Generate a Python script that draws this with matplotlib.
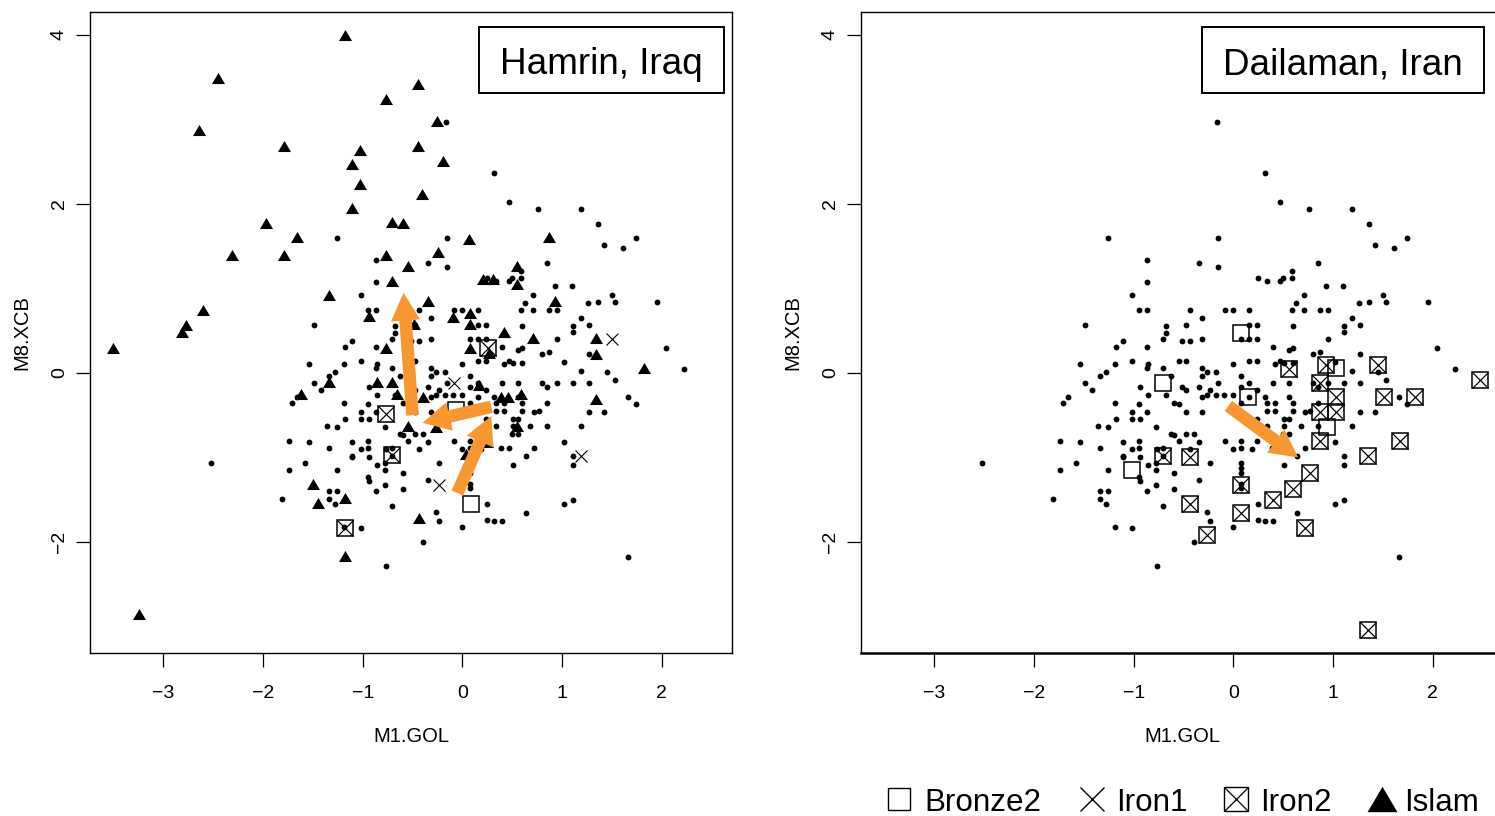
import numpy as np
import matplotlib
matplotlib.use('Agg')
import matplotlib.pyplot as plt
from matplotlib.patches import FancyArrowPatch

plt.rcParams['font.family'] = ['Liberation Sans', 'DejaVu Sans']

# All samples, (M1.GOL, M8.XCB), same cloud in both panels
samples = np.array([
    (-1.26, 1.60), (-0.15, 1.60), (-0.87, 1.34), (-0.34, 1.30), (-0.15, 1.26), (-0.87, 1.08), (-1.02, 0.92),
    (-0.95, 0.74), (-0.87, 0.74), (-0.43, 0.75), (-0.31, 0.65), (-0.08, 0.74), (0.00, 0.75), (0.16, 0.74),
    (-1.49, 0.57), (-0.68, 0.56), (-0.47, 0.57), (0.16, 0.57), (0.24, 0.57), (-0.68, 0.47), (-0.71, 0.40),
    (-0.51, 0.38), (-0.43, 0.38), (-0.31, 0.40), (0.08, 0.40), (0.16, 0.40), (0.24, 0.40), (-1.11, 0.38),
    (-1.18, 0.31), (-0.87, 0.31), (-1.54, 0.11), (-1.19, 0.11), (-1.02, 0.14), (-0.86, 0.11), (-0.87, 0.06),
    (-0.55, 0.14), (-0.47, 0.14), (-0.71, 0.06), (-0.31, 0.06), (-0.31, -0.03), (-0.26, 0.01), (-0.17, 0.01),
    (0.00, 0.11), (0.16, 0.14), (0.24, 0.14), (-1.28, 0.01), (-1.34, -0.03), (-0.63, -0.04), (0.08, -0.03),
    (-1.49, -0.12), (-1.42, -0.20), (-0.94, -0.17), (-0.51, -0.17), (-0.47, -0.20), (-0.34, -0.17),
    (-0.15, -0.12), (-0.23, -0.20), (-0.26, -0.26), (-0.31, -0.29), (-0.17, -0.26), (-0.09, -0.26),
    (0.00, -0.26), (0.08, -0.17), (0.16, -0.12), (0.24, -0.20), (0.16, -0.29), (-0.86, -0.26), (-0.68, -0.26),
    (-1.66, -0.29), (-1.71, -0.36), (-1.19, -0.36), (-0.95, -0.37), (-0.60, -0.36), (-0.55, -0.37),
    (0.08, -0.36), (-1.02, -0.46), (-0.87, -0.46), (-0.47, -0.46), (-0.31, -0.46), (-1.02, -0.54),
    (-0.94, -0.54), (-1.18, -0.55), (0.24, -0.55), (-1.36, -0.63), (-1.26, -0.64), (-0.78, -0.64),
    (-0.63, -0.72), (-0.60, -0.73), (-0.47, -0.72), (-0.39, -0.72), (-1.74, -0.80), (-1.54, -0.82),
    (-1.11, -0.82), (-0.95, -0.80), (-0.55, -0.80), (-0.34, -0.82), (-0.08, -0.80), (0.08, -0.80),
    (0.24, -0.80), (-1.34, -0.89), (-1.02, -0.90), (-0.95, -0.89), (-0.77, -0.90), (-0.71, -0.89),
    (-0.43, -0.90), (0.00, -0.90), (0.08, -0.89), (0.19, -0.90), (-1.11, -0.98), (-1.11, -1.00),
    (-0.94, -1.00), (-0.71, -0.98), (-0.78, -1.06), (-0.86, -1.09), (-1.58, -1.06), (-0.23, -1.06),
    (0.08, -1.06), (0.08, -1.13), (0.08, -1.18), (-1.74, -1.15), (-1.26, -1.15), (-0.78, -1.15),
    (-0.60, -1.18), (-0.95, -1.23), (-0.94, -1.28), (-0.34, -1.27), (0.08, -1.31), (0.08, -1.36),
    (-0.78, -1.32), (-1.34, -1.40), (-1.26, -1.40), (-0.87, -1.40), (-0.60, -1.37), (-1.81, -1.49),
    (-1.34, -1.49), (-1.28, -1.55), (-0.71, -1.57), (0.25, -1.55), (-0.26, -1.64), (-0.23, -1.75),
    (0.25, -1.74), (-1.19, -1.82), (-1.02, -1.83), (0.00, -1.82), (-0.39, -2.00),
    (0.60, 0.56), (1.11, 0.56), (1.27, 0.57), (1.11, 0.48), (0.95, 0.40), (0.40, 0.31), (0.56, 0.27),
    (0.60, 0.29), (0.80, 0.22), (0.87, 0.25), (1.27, 0.22), (2.04, 0.29), (0.42, 0.11), (0.47, 0.14),
    (0.51, 0.12), (0.60, 0.12), (1.02, 0.13), (2.22, 0.05), (1.19, 0.02), (1.45, 0.01), (1.53, -0.08),
    (0.40, -0.12), (0.56, -0.12), (0.80, -0.12), (0.95, -0.12), (1.11, -0.12), (1.27, -0.12), (0.85, -0.17),
    (0.32, -0.29), (0.56, -0.29), (1.66, -0.29), (0.34, -0.36), (0.42, -0.36), (0.60, -0.36), (0.85, -0.36),
    (1.74, -0.37), (0.34, -0.45), (0.42, -0.45), (0.60, -0.45), (0.72, -0.46), (0.77, -0.45), (1.27, -0.46),
    (1.42, -0.46), (0.51, -0.54), (0.56, -0.55), (0.34, -0.63), (0.51, -0.63), (0.68, -0.63), (0.85, -0.63),
    (1.19, -0.63), (0.56, -0.72), (0.50, -0.72), (0.72, -0.89), (1.02, -0.82), (1.11, -0.98), (0.64, -0.98),
    (1.11, -1.09), (0.51, -1.09), (1.02, -1.55), (1.11, -1.50), (0.32, -1.75), (0.40, -1.75), (0.64, -1.66),
    (1.66, -2.18), (0.39, -0.89), (0.47, -0.89),
    (0.47, 2.02), (0.76, 1.94), (1.19, 1.94), (1.36, 1.76), (1.42, 1.51), (1.61, 1.48), (1.74, 1.60),
    (0.85, 1.30), (0.59, 1.21), (0.50, 1.12), (0.47, 1.09), (0.59, 1.12), (0.93, 1.03), (1.10, 1.03),
    (0.71, 0.92), (1.50, 0.92), (0.63, 0.83), (1.26, 0.83), (1.36, 0.84), (1.53, 0.84), (1.95, 0.84),
    (0.59, 0.75), (0.71, 0.75), (0.87, 0.75), (0.95, 0.75), (1.19, 0.65),
    (-0.16, 2.97), (0.32, 2.37), (0.25, 1.12), (0.34, 1.09), (-0.77, -2.29), (-2.52, -1.06),
])

hamrin_islam = np.array([
    (-1.18, 4.00), (-2.45, 3.49), (-0.77, 3.24), (-0.44, 3.42), (-2.64, 2.87), (-1.79, 2.69), (-1.03, 2.64),
    (-1.11, 2.47), (-1.03, 2.24), (-1.11, 1.95), (-0.44, 2.69), (-0.40, 2.12), (-1.97, 1.78), (-0.71, 1.79),
    (-0.60, 1.77), (-1.66, 1.61), (-2.31, 1.40), (-1.79, 1.40), (-0.77, 1.40), (-0.55, 1.27), (-0.71, 1.09),
    (-1.34, 0.92), (-2.60, 0.75), (-2.77, 0.57), (-0.94, 0.67), (-2.81, 0.48), (-3.50, 0.30), (-3.24, -2.85),
    (-0.25, 2.98), (-0.19, 2.51), (0.07, 1.59), (-0.24, 1.43), (-0.34, 0.85), (-0.09, 0.66), (0.08, 0.71),
    (0.08, 0.58), (-0.48, 0.58), (0.21, 1.11), (0.31, 1.11), (-0.77, 0.30), (0.08, 0.30), (0.27, 0.24),
    (-1.34, -0.11), (-1.62, -0.25), (-0.86, -0.11), (-0.71, -0.11), (-0.66, -0.25), (-0.39, -0.28),
    (0.17, -0.14), (-0.55, -0.63), (-0.26, -0.64), (-1.50, -1.31), (-1.45, -1.54), (-1.18, -1.48),
    (-0.43, -1.72), (-1.18, -2.17), (0.04, -0.96), (0.25, -0.82), (0.87, 1.61), (0.55, 1.27), (0.55, 1.05),
    (0.93, 0.85), (0.42, 0.48), (0.71, 0.41), (1.34, 0.41), (1.34, 0.23), (1.82, 0.06), (0.39, -0.28),
    (0.46, -0.28), (0.59, -0.25), (1.34, -0.31), (0.55, -0.63),
])
hamrin_bronze2 = np.array([(0.085, -1.55), (-0.06, -0.44)])
hamrin_iron1 = np.array([(-0.08, -0.12), (-0.23, -1.32), (1.50, 0.40), (1.19, -0.98)])
hamrin_iron2 = np.array([(-0.77, -0.49), (-0.71, -0.97), (-1.18, -1.83), (0.26, 0.29)])

dailaman_bronze2 = np.array([(-0.71, -0.12), (0.08, 0.47), (0.15, -0.29), (-1.02, -1.15), (1.03, 0.055), (0.94, -0.635)])
dailaman_iron2 = np.array([
    (0.56, 0.05), (0.93, 0.10), (1.45, 0.10), (2.47, -0.08), (0.87, -0.12), (1.03, -0.29), (1.51, -0.29),
    (1.82, -0.29), (0.87, -0.46), (1.03, -0.46), (0.87, -0.80), (1.67, -0.80), (1.35, -0.98), (0.77, -1.18),
    (0.08, -1.32), (0.60, -1.37), (0.40, -1.50), (0.08, -1.66), (0.72, -1.84), (-0.26, -1.92), (1.35, -3.04),
    (-0.71, -0.98), (-0.43, -1.00), (-0.43, -1.55),
])

hamrin_arrows = [((-0.50, -0.50), (-0.59, 0.95)), ((0.29, -0.40), (-0.40, -0.59)), ((-0.05, -1.42), (0.29, -0.51))]
dailaman_arrows = [((-0.05, -0.39), (0.65, -1.00))]

x_ticks = [-3, -2, -1, 0, 1, 2]
y_ticks = [-2, 0, 2, 4]
legend_labels = ['Bronze2', 'Iron1', 'Iron2', 'Islam']

W, H = 1495, 816
orange = '#F8962F'
SQ = 11.2
# flatter than the stock '^'
TRI = [(-1, -0.85), (1, -0.85), (0, 0.85)]


def iron2(ax, pts, ms=SQ, lw=1.1):
    ax.plot(pts[:, 0], pts[:, 1], ls='none', marker='s', ms=ms, mfc='none', mec='black', mew=lw, zorder=3)
    ax.plot(pts[:, 0], pts[:, 1], ls='none', marker='x', ms=ms, mec='black', mew=lw * 0.8, zorder=3)


def panel(left, title, box, bottom_lw):
    ax = fig.add_axes([left / W, 1 - 653 / H, 642 / W, 641 / H])
    ax.set_xlim(-3.735, 2.705)
    ax.set_ylim(-3.314, 4.272)
    ax.plot(samples[:, 0], samples[:, 1], ls='none', marker='o', ms=4.2, color='black', mew=0, zorder=2)
    ax.set_xticks(x_ticks)
    ax.set_yticks(y_ticks)
    ax.set_xticklabels(['\u2212%d' % -v if v < 0 else str(v) for v in x_ticks])
    ax.set_yticklabels(['\u2212%d' % -v if v < 0 else str(v) for v in y_ticks], rotation=90, va='center')
    ax.tick_params(axis='x', length=10, width=0.9, pad=13, labelsize=14)
    ax.tick_params(axis='y', length=10, width=0.9, pad=6, labelsize=14)
    for s in ax.spines.values():
        s.set_linewidth(1.0)
    ax.spines['bottom'].set_linewidth(bottom_lw)
    ax.set_xlabel('M1.GOL', fontsize=14.5, va='center')
    ax.xaxis.set_label_coords(0.5, (653 - 737) / 641)
    ax.set_ylabel('M8.XCB', fontsize=14.5, va='center')
    ax.yaxis.set_label_coords((22 - 90) / 642, 0.5)
    # title box
    x0, x1 = box
    fig.patches.append(plt.Rectangle((x0 / W, 1 - 93 / H), (x1 - x0) / W, 66 / H, transform=fig.transFigure,
                                     fc='white', ec='black', lw=1.4, zorder=6))
    fig.text((x0 + x1) / 2 / W, 1 - 65 / H, title, fontsize=26.6, ha='center', va='center', zorder=7)
    return ax


def arrows(ax, items):
    for a, b in items:
        ax.add_patch(FancyArrowPatch(a, b, arrowstyle='simple,head_length=20,head_width=21,tail_width=9',
                                     mutation_scale=1, color=orange, lw=0, shrinkA=0, shrinkB=0, zorder=5))


fig = plt.figure(figsize=(W / 100, H / 100), dpi=100)

ax1 = panel(90, 'Hamrin, Iraq', (479, 724), 1.0)
ax1.plot(hamrin_islam[:, 0], hamrin_islam[:, 1], ls='none', marker=TRI, ms=9.4, color='black', mew=0, zorder=3)
ax1.plot(hamrin_bronze2[:, 0], hamrin_bronze2[:, 1], ls='none', marker='s', ms=SQ, mfc='none', mec='black', mew=1.1, zorder=3)
ax1.plot(hamrin_iron1[:, 0], hamrin_iron1[:, 1], ls='none', marker='x', ms=8.8, mec='black', mew=0.8, zorder=3)
iron2(ax1, hamrin_iron2)
arrows(ax1, hamrin_arrows)

ax2 = panel(861, 'Dailaman, Iran', (1202, 1484), 1.8)
ax2.plot(dailaman_bronze2[:, 0], dailaman_bronze2[:, 1], ls='none', marker='s', ms=SQ, mfc='none', mec='black', mew=1.1, zorder=3)
iron2(ax2, dailaman_iron2)
arrows(ax2, dailaman_arrows)

# legend along the bottom right, placed by hand
lg = fig.add_axes([0, 0, 1, 1], facecolor='none')
lg.set_xlim(0, W)
lg.set_ylim(H, 0)
lg.axis('off')
lg.plot(899, 799, marker='s', ms=16.5, mfc='none', mec='black', mew=1.0)
lg.plot(1092, 799, marker='x', ms=17, mec='black', mew=1.0)
lg.plot(1236, 799, marker='s', ms=17, mfc='none', mec='black', mew=1.0)
lg.plot(1236, 799, marker='x', ms=17, mec='black', mew=0.9)
lg.plot(1382, 799, marker=TRI, ms=21.5, color='black', mew=0)
for x, s in zip([924, 1116, 1260, 1404], legend_labels):
    lg.text(x, 803, s, fontsize=22.6, ha='left', va='center')

fig.savefig('out.png', dpi=100)
